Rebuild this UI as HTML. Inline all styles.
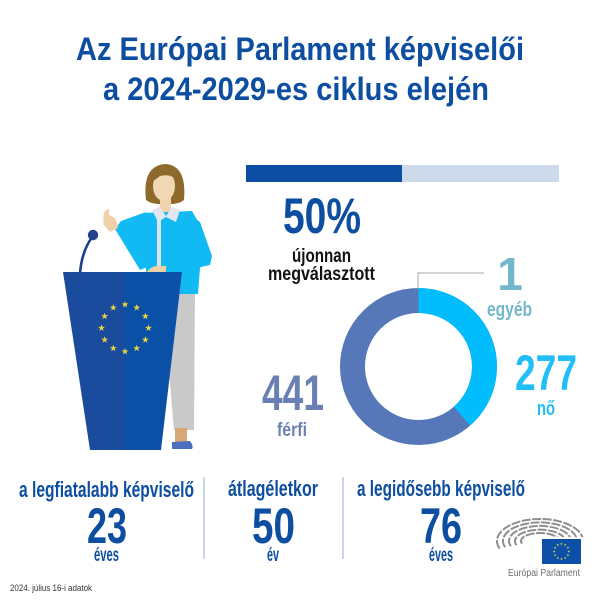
<!DOCTYPE html>
<html><head><meta charset="utf-8"><style>
html,body{margin:0;padding:0;background:#fff;}
svg{display:block;}
text{font-family:"Liberation Sans Narrow","Liberation Sans",sans-serif;font-weight:bold;}
</style></head><body>
<svg width="600" height="600" viewBox="0 0 600 600" xmlns="http://www.w3.org/2000/svg">
<defs>
<path id="st" d="M0,-3.6 L0.85,-1.17 L3.42,-1.11 L1.38,0.45 L2.12,2.91 L0,1.45 L-2.12,2.91 L-1.38,0.45 L-3.42,-1.11 L-0.85,-1.17Z"/>
</defs>
<rect width="600" height="600" fill="#fff"/>
<!-- title -->
<text x="76" y="60" font-size="32" fill="#0e4ea1" textLength="448" lengthAdjust="spacingAndGlyphs">Az Európai Parlament képviselői</text>
<text x="103" y="100" font-size="32" fill="#0e4ea1" textLength="386" lengthAdjust="spacingAndGlyphs">a 2024-2029-es ciklus elején</text>

<!-- progress bar -->
<rect x="246" y="165" width="313" height="17" fill="#cddaeb"/>
<rect x="246" y="165" width="156" height="17" fill="#0d4ea4"/>
<text x="283" y="233" font-size="50" fill="#0e4ea1" textLength="78" lengthAdjust="spacingAndGlyphs">50%</text>
<text x="292" y="262" font-size="19" fill="#111" textLength="59" lengthAdjust="spacingAndGlyphs">újonnan</text>
<text x="268" y="280" font-size="19" fill="#111" textLength="107" lengthAdjust="spacingAndGlyphs">megválasztott</text>

<!-- donut -->
<g transform="translate(418.5,366.5) rotate(-90)">
<circle r="66" fill="none" stroke="#5678b8" stroke-width="25"/>
<circle r="66" fill="none" stroke="#02bdfd" stroke-width="25" stroke-dasharray="159.8 500"/>
</g>
<polyline points="418,289 418,273 484,273" fill="none" stroke="#aaa" stroke-width="1"/>
<text x="510" y="290" font-size="46" fill="#72b7cb" text-anchor="middle">1</text>
<text x="487" y="316" font-size="20" fill="#72b7cb" textLength="45" lengthAdjust="spacingAndGlyphs">egyéb</text>
<text x="515" y="390" font-size="50" fill="#22bef7" textLength="62" lengthAdjust="spacingAndGlyphs">277</text>
<text x="537" y="415" font-size="20" fill="#22bef7" textLength="18" lengthAdjust="spacingAndGlyphs">nő</text>
<text x="262" y="410" font-size="50" fill="#6a80b5" textLength="62" lengthAdjust="spacingAndGlyphs">441</text>
<text x="277" y="436" font-size="19" fill="#6a80b5" textLength="30" lengthAdjust="spacingAndGlyphs">férfi</text>

<!-- woman -->
<polygon points="160,292 195,292 194,430 174,430 168,360" fill="#c9c9c9"/>
<rect x="175" y="428" width="12" height="14" fill="#d6a877"/>
<path d="M172,442 L190,441 Q194,446 192,449 L172,449 Z" fill="#4a6fc0"/>
<path d="M146,200 Q142,166 165,164 Q187,165 184,200 Q178,205 166,204 Q152,205 146,200Z" fill="#8d6a2c"/>
<rect x="160" y="198" width="11" height="14" fill="#efd2ae"/>
<ellipse cx="164" cy="186" rx="11" ry="15" fill="#f2d7b5"/>
<path d="M152,182 Q153,168 166,168 Q178,170 178,182 Q172,173 160,176 Z" fill="#8d6a2c"/>
<polygon points="143,213 192,211 200,225 206,260 200,268 198,294 150,294 146,270" fill="#12baf4"/>
<rect x="157" y="216" width="4" height="52" fill="#dfe3ea"/>
<polygon points="152,210 160,207 166,216 172,207 180,210 176,222 166,217 158,222" fill="#e2e6ee"/>
<polygon points="115,229 121,221 146,212 150,266 140,270" fill="#12baf4"/>
<path d="M104,225 Q102,214 106,210 L109,209 L109,215 Q114,216 117,222 L118,228 L110,232 Z" fill="#f0d1a8"/>
<polygon points="186,212 200,222 212,256 210,265 168,274 164,266 198,258 190,236" fill="#12baf4"/>
<path d="M145,277 Q147,268 156,266 L166,266 L166,276 Z" fill="#f0d1a8"/>

<!-- microphone -->
<path d="M80,273 Q82,250 93,236" fill="none" stroke="#1d3d8f" stroke-width="2.6"/>
<circle cx="93" cy="235" r="5.2" fill="#24408f"/>
<!-- lectern -->
<polygon points="63,272 125,272 125,450 90,450" fill="#1a4b9c"/>
<polygon points="125,272 182,272 161,450 125,450" fill="#0a50a6"/>
<g fill="#e6d63c">
<use href="#st" x="125" y="304.5"/><use href="#st" x="136.75" y="307.65"/><use href="#st" x="145.35" y="316.25"/>
<use href="#st" x="148.5" y="328"/><use href="#st" x="145.35" y="339.75"/><use href="#st" x="136.75" y="348.35"/>
<use href="#st" x="125" y="351.5"/><use href="#st" x="113.25" y="348.35"/><use href="#st" x="104.65" y="339.75"/>
<use href="#st" x="101.5" y="328"/><use href="#st" x="104.65" y="316.25"/><use href="#st" x="113.25" y="307.65"/>
</g>

<!-- bottom stats -->
<text x="19" y="497" font-size="22" fill="#0e4ea1" textLength="175" lengthAdjust="spacingAndGlyphs">a legfiatalabb képviselő</text>
<text x="87" y="543" font-size="50" fill="#0e4ea1" textLength="40" lengthAdjust="spacingAndGlyphs">23</text>
<text x="94" y="561" font-size="19" fill="#0e4ea1" textLength="25" lengthAdjust="spacingAndGlyphs">éves</text>
<line x1="204" y1="477" x2="204" y2="559" stroke="#b8c9df" stroke-width="1.5"/>
<text x="228" y="496" font-size="22" fill="#0e4ea1" textLength="90" lengthAdjust="spacingAndGlyphs">átlagéletkor</text>
<text x="252" y="543" font-size="50" fill="#0e4ea1" textLength="43" lengthAdjust="spacingAndGlyphs">50</text>
<text x="267" y="561" font-size="19" fill="#0e4ea1" textLength="12" lengthAdjust="spacingAndGlyphs">év</text>
<line x1="343" y1="477" x2="343" y2="559" stroke="#b8c9df" stroke-width="1.5"/>
<text x="357" y="496" font-size="22" fill="#0e4ea1" textLength="168" lengthAdjust="spacingAndGlyphs">a legidősebb képviselő</text>
<text x="420" y="543" font-size="50" fill="#0e4ea1" textLength="42" lengthAdjust="spacingAndGlyphs">76</text>
<text x="429" y="561" font-size="19" fill="#0e4ea1" textLength="24" lengthAdjust="spacingAndGlyphs">éves</text>

<!-- logo hemicycle -->
<g fill="none" stroke="#8e8e8e" stroke-width="2" stroke-dasharray="9 1.5">
<path d="M499.6,548.5 A43,22 0 1 1 583,541"/>
<path d="M505.2,547.2 A37,18.5 0 1 1 577,541"/>
<path d="M510.9,546.1 A31,15 0 1 1 571,541"/>
<path d="M516.5,545.1 A25,11.5 0 1 1 565,541"/>
<path d="M522.1,543.7 A19,8 0 1 1 559,541"/>
</g>
<rect x="540" y="537" width="44" height="30" fill="#fff"/>
<rect x="542" y="539" width="39" height="25" fill="#0c4fa6"/>
<g fill="#f1de3a">
<use href="#st" transform="translate(561.5,544) scale(0.38)"/><use href="#st" transform="translate(565.2,545) scale(0.38)"/>
<use href="#st" transform="translate(567.9,547.8) scale(0.38)"/><use href="#st" transform="translate(568.9,551.5) scale(0.38)"/>
<use href="#st" transform="translate(567.9,555.2) scale(0.38)"/><use href="#st" transform="translate(565.2,558) scale(0.38)"/>
<use href="#st" transform="translate(561.5,559) scale(0.38)"/><use href="#st" transform="translate(557.8,558) scale(0.38)"/>
<use href="#st" transform="translate(555.1,555.2) scale(0.38)"/><use href="#st" transform="translate(554.1,551.5) scale(0.38)"/>
<use href="#st" transform="translate(555.1,547.8) scale(0.38)"/><use href="#st" transform="translate(557.8,545) scale(0.38)"/>
</g>
<text x="508" y="576" font-size="10" fill="#6e6e6e" style="font-weight:normal" textLength="72" lengthAdjust="spacingAndGlyphs">Európai Parlament</text>

<!-- footnote -->
<text x="10" y="591" font-size="9.5" fill="#333" style="font-weight:normal;font-family:'Liberation Sans',sans-serif" textLength="82" lengthAdjust="spacingAndGlyphs">2024. július 16-i adatok</text>
</svg>
</body></html>
